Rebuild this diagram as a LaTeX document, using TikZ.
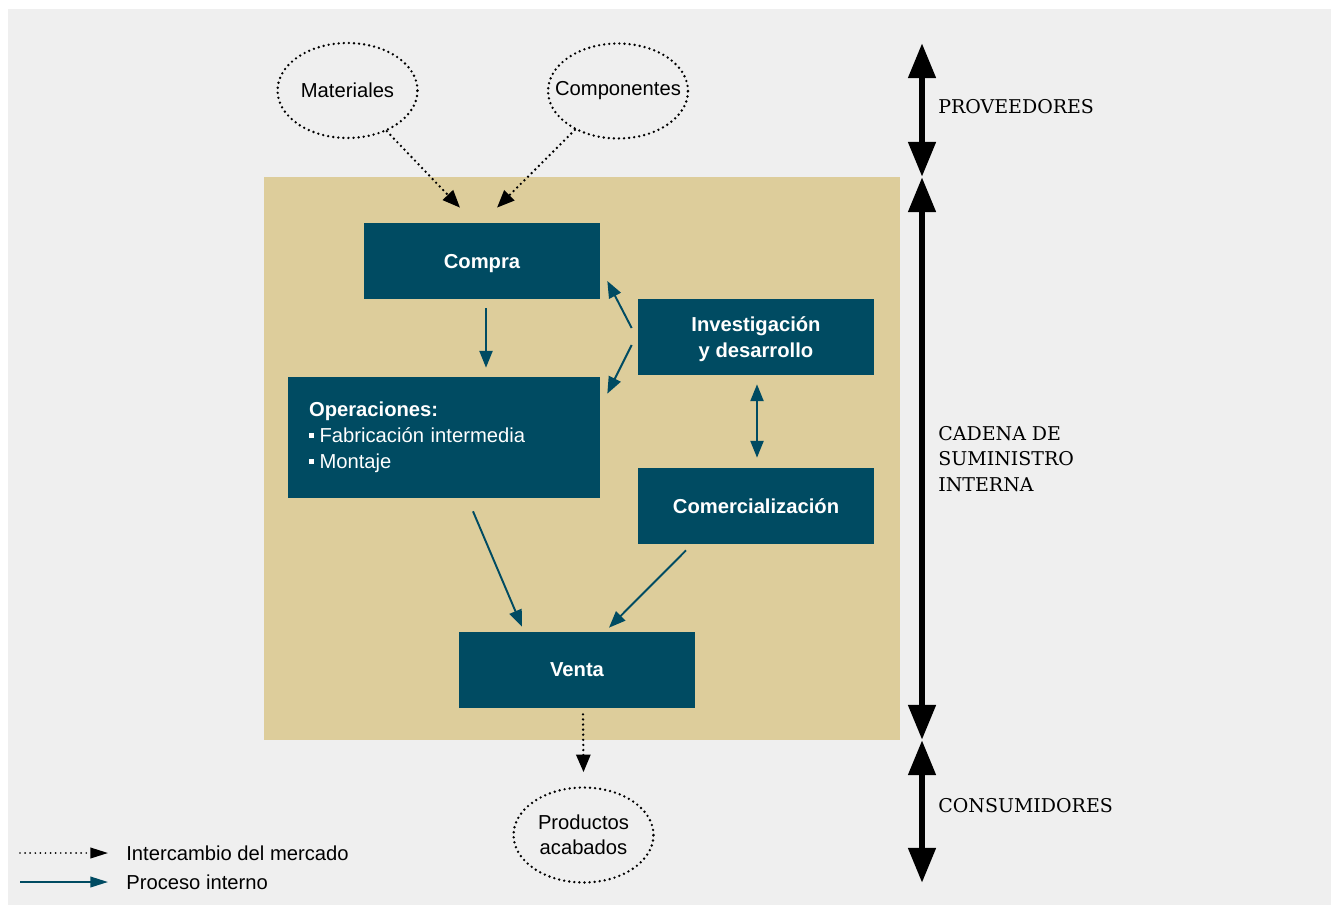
\documentclass[tikz,border=0pt]{standalone}
\usepackage{fontspec}
\setmainfont{Liberation Sans}
\newfontfamily\slabfont{DejaVu Serif}
\usetikzlibrary{
    shapes.geometric,
    arrows.meta,
    positioning,
    calc
}
\definecolor{fondogris}{RGB}{239, 239, 239}
\definecolor{cadenatan}{RGB}{221, 205, 155}
\definecolor{procteal}{RGB}{0, 75, 98}
\newcommand{\opbullet}{\rule[2.6pt]{3pt}{3pt}\hspace{3pt}}

\begin{document}
\begin{tikzpicture}[x=0.02cm, y=-0.02cm,
        proc/.style={rectangle, fill=procteal, text=white, inner sep=0pt, minimum width=4.72cm, minimum height=1.52cm, align=center, text depth=0pt, font=\bfseries\fontsize{11.5}{15}\selectfont},
        mercado/.style={ellipse, draw, line width=1.5pt, dash pattern=on 0pt off 2.9pt, line cap=round, inner sep=0pt, minimum width=2.8cm, minimum height=1.9cm, align=center, font=\fontsize{11.5}{14.2}\selectfont},
        dotarrow/.style={-{Triangle[length=10pt, width=8pt]}, line width=1.5pt, dash pattern=on 0pt off 2.9pt, line cap=round},
        internal/.style={-{Triangle[length=9.5pt, width=7.4pt]}, line width=1.1pt, draw=procteal},
        bigarrow/.style={{Triangle[length=20pt, width=15pt]}-{Triangle[length=20pt, width=15pt]}, line width=3.8pt},
        segment/.style={anchor=west, align=left, inner sep=0pt, font=\slabfont\fontsize{10.8}{14.5}\selectfont},
        legend/.style={anchor=west, inner sep=0pt, font=\fontsize{11.5}{14}\selectfont}
    ]
        % fondo
        \useasboundingbox (0,0) rectangle (1331,906);
        \fill[fondogris] (8,9) rectangle (1331,905);
        \fill[cadenatan] (264,177) rectangle (900,740);

        % proveedores y consumidores
        \node[mercado] (mat) at (347.5,90.5) {Materiales};
        \node[mercado] (comp) at (618,91) {\makebox[0pt]{Componentes}};
        \node[mercado] (prod) at (583.5,835) {Productos\\acabados};

        % procesos internos
        \node[proc] (compra) at (482,261) {Compra};
        \node[proc] (inv) at (756,337) {Investigación\\y desarrollo};
        \node[proc, minimum width=6.24cm, minimum height=2.42cm, text width=5.4cm, inner xsep=0.42cm, align=left, text depth=, font=\fontsize{11.5}{14.7}\selectfont] (oper) at (444,437.5)
            {\textbf{Operaciones:}\\ \opbullet Fabricación intermedia\\ \opbullet Montaje};
        \node[proc] (comerc) at (756,506) {Comercialización};
        \node[proc] (venta) at (577,670) {Venta};

        \draw[dotarrow] (mat.-46) -- ($(compra.north)+(-22,-15)$);
        \draw[dotarrow] (comp.-138) -- ($(compra.north)+(15,-15)$);
        \draw[internal] ($(compra.south)+(4,9)$) -- ($(oper.north -| compra.south)+(4,-9)$);
        \draw[internal] ($(inv.west)+(-6,-9)$) -- ($(compra.east)+(7,20)$);
        \draw[internal] ($(inv.west)+(-6,8)$) -- ($(oper.north east)+(7,17)$);
        \draw[internal, {Triangle[length=9.5pt, width=7.4pt]}-{Triangle[length=9.5pt, width=7.4pt]}] ($(inv.south)+(1,9)$) -- ($(comerc.north)+(1,-10)$);
        \draw[internal] ($(oper.south)+(29,13)$) -- ($(venta.north)+(-55,-5)$);
        \draw[internal] ($(comerc.south)+(-70,6)$) -- ($(venta.north)+(32,-4)$);
        \draw[dotarrow] ($(venta.south)+(6,6)$) -- ($(prod.north)+(0,-14)$);

        % tramos de la cadena
        \coordinate (provtop) at (922,43);
        \coordinate (cadtop) at (922,177);
        \coordinate (cadbot) at (922,740);
        \coordinate (consbot) at (922,883);
        \draw[bigarrow] (provtop) -- (cadtop);
        \draw[bigarrow] (cadtop) -- (cadbot);
        \draw[bigarrow] (cadbot) -- (consbot);
        \node[segment] (prov) at (938,107) {PROVEEDORES};
        \node[segment] (cadena) at (938,459) {CADENA DE\\SUMINISTRO\\INTERNA};
        \node[segment] (cons) at (938,806) {CONSUMIDORES};

        % leyenda
        \node[legend] (legmerc) at (126,853) {Intercambio del mercado};
        \node[legend] (legint) at (126,882) {Proceso interno};
        \coordinate (legmercstart) at (20,853);
        \coordinate (legintstart) at (20,882);
        \draw[dotarrow, line width=1.1pt, -{Triangle[length=10pt, width=6pt]}] (legmercstart) -- ($(legmerc.west)+(-18,0)$);
        \draw[internal, -{Triangle[length=10pt, width=6pt]}] (legintstart) -- ($(legint.west)+(-18,0)$);
    \end{tikzpicture}
\end{document}
